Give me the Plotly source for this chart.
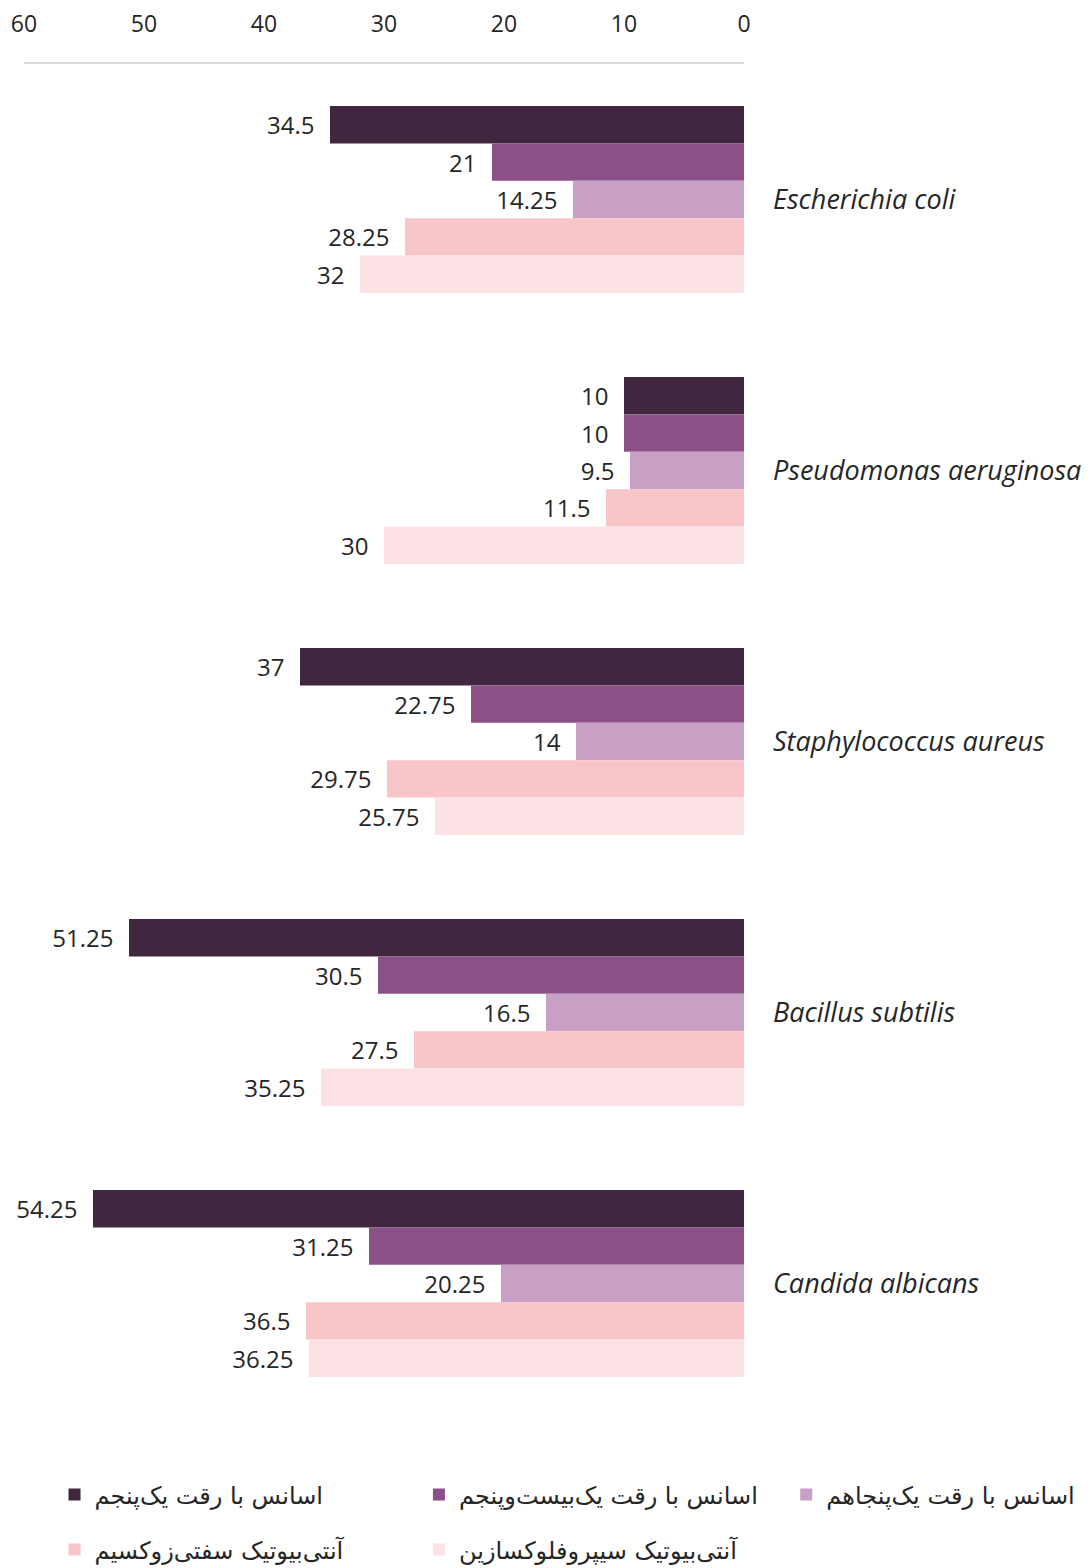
import plotly.graph_objects as go

categories = ["Escherichia coli", "Pseudomonas aeruginosa", "Staphylococcus aureus",
              "Bacillus subtilis", "Candida albicans"]
series_names = [
    "اسانس با رقت یک\u200cپنجم",
    "اسانس با رقت یک\u200cبیست\u200cوپنجم",
    "اسانس با رقت یک\u200cپنجاهم",
    "آنتی\u200cبیوتیک سفتی\u200cزوکسیم",
    "آنتی\u200cبیوتیک سیپروفلوکسازین",
]
s1 = [34.5, 10, 37, 51.25, 54.25]
s2 = [21, 10, 22.75, 30.5, 31.25]
s3 = [14.25, 9.5, 14, 16.5, 20.25]
s4 = [28.25, 11.5, 29.75, 27.5, 36.5]
s5 = [32, 30, 25.75, 35.25, 36.25]
series_values = [s1, s2, s3, s4, s5]
colors = ["#40263F", "#8B5088", "#C89FC5", "#F8C6C9", "#FCE2E4"]
tick_vals = [0, 10, 20, 30, 40, 50, 60]

# one legend per entry (3 on the first row, 2 on the second)
legend_ids = ["legend", "legend2", "legend3", "legend4", "legend5"]
legend_x = [0.0427, 0.377, 0.714, 0.0427, 0.377]
legend_y = [0.0517, 0.0517, 0.0517, 0.0166, 0.0166]

fig = go.Figure()
for name, vals, col, lg in zip(series_names, series_values, colors, legend_ids):
    fig.add_trace(go.Bar(
        y=categories, x=vals, name=name, orientation="h",
        marker=dict(color=col, line=dict(width=0)),
        text=[f"{v:g}\u00a0\u00a0" for v in vals], textposition="outside",
        textfont=dict(family="Open Sans", size=24, color="#262626"),
        cliponaxis=False, legend=lg,
    ))

legend_font = dict(family="DejaVu Sans", size=24, color="#262626")
legends = {}
for lg, lx, ly in zip(legend_ids, legend_x, legend_y):
    legends[lg] = dict(orientation="h", xref="container", yref="container",
                       x=lx, y=ly, xanchor="left", yanchor="middle",
                       font=legend_font, bgcolor="rgba(0,0,0,0)")

fig.update_layout(
    width=1090, height=1568,
    margin=dict(l=16, r=354, t=56, b=157),
    paper_bgcolor="white", plot_bgcolor="white",
    barmode="group", bargap=0.31, bargroupgap=0,
    showlegend=True,
    xaxis=dict(range=[60, 0], side="top", tickvals=tick_vals,
               showgrid=False, zeroline=False, showline=True,
               linecolor="#D9D9D9", linewidth=1.5, automargin=False,
               tickfont=dict(family="Open Sans", size=23, color="#262626"),
               ticks="", ticklabelstandoff=21),
    yaxis=dict(autorange="reversed", side="right", showgrid=False,
               zeroline=False, showline=False, ticks="", automargin=False,
               tickfont=dict(family="Open Sans", size=27, color="#262626"),
               ticklabelstandoff=28),
    **legends,
)
fig.for_each_yaxis(lambda a: a.update(tickprefix="<i>", ticksuffix="</i>"))
fig.write_html("out.html")
